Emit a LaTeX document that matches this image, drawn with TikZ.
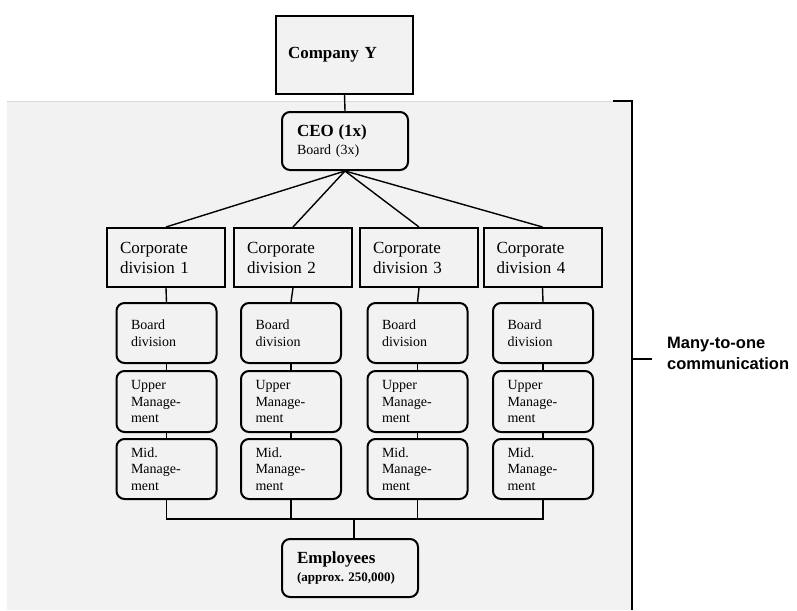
\documentclass[tikz,border=0pt]{standalone}
\usepackage{fontspec}
\setmainfont{Liberation Serif}
\newfontfamily\labelsans{Liberation Sans}
\definecolor{panelgrey}{HTML}{F2F2F2}
\definecolor{panelline}{HTML}{D9D9D9}
\begin{document}
\begin{tikzpicture}[x=1pt,y=-1pt,
  box/.style={draw=black, line width=2pt, fill=panelgrey, align=left, anchor=center,
    inner ysep=0pt},
  sqbox/.style={box},
  rbox/.style={box, rounded corners=8pt},
  corpbox/.style={sqbox, minimum width=118pt, minimum height=59pt, text width=92pt, inner xsep=13pt,
    font=\fontsize{17}{20}\selectfont},
  subbox/.style={rbox, minimum width=100pt, text width=71pt, inner xsep=14.5pt,
    font=\fontsize{14}{16.7}\selectfont},
  link/.style={draw=black, line width=1.4pt},
  bracket/.style={draw=black, line width=2pt}
]
\useasboundingbox (0,0) rectangle (797,610);

% shaded panel holding the organisation
\fill[panelgrey] (7,101) rectangle (632,610);
\draw[panelline, line width=1pt] (7,101) -- (632,101);

% top level
\node[sqbox, minimum width=137pt, minimum height=77pt, text width=113pt, inner xsep=12pt,
  font=\bfseries\fontsize{17}{20}\selectfont] (company) at (344.5,55) {Company Y};
\node[rbox, minimum width=126pt, minimum height=58pt, text width=96pt, inner xsep=15pt,
  font=\fontsize{14}{18.5}\selectfont]
  (ceo) at (345,141)
  {{\bfseries\fontsize{17}{18.5}\selectfont CEO (1x)}\\Board (3x)};

% corporate divisions
\node[corpbox] (cd1) at (166,257.5) {Corporate\\division 1};
\node[corpbox] (cd2) at (293,257.5) {Corporate\\division 2};
\node[corpbox] (cd3) at (419,257.5) {Corporate\\division 3};
\node[corpbox] (cd4) at (542.5,257.5) {Corporate\\division 4};

% management levels per division
\foreach \i/\x in {1/166.5,2/291,3/417.5,4/543}{
  \node[subbox, minimum height=60pt] (bd\i) at (\x,333) {Board\\division};
  \node[subbox, minimum height=61pt] (um\i) at (\x,401.5) {Upper\\Manage-\\ment};
  \node[subbox, minimum height=60pt] (mm\i) at (\x,469) {Mid.\\Manage-\\ment};
}

% employees
\node[rbox, minimum width=136pt, minimum height=58pt, text width=106pt, inner xsep=15pt,
  font=\bfseries\fontsize{13}{18}\selectfont]
  (emp) at (350,568)
  {{\fontsize{17}{18}\selectfont Employees}\\(approx.\ 250,000)};

% connectors
\draw[link] (company.south) -- (ceo.north);
\foreach \i in {1,2,3,4}{
  \draw[link] (ceo.south) -- (cd\i.north);
  \draw[link] (cd\i.south) -- (bd\i.north);
  \draw[link] (bd\i.south) -- (um\i.north);
  \draw[link] (um\i.south) -- (mm\i.north);
}
\coordinate (bus) at (354,519);
\draw[link] (mm1.south) -- (mm1.south |- bus) -- (mm4.south |- bus) -- (mm4.south);
\draw[link] (mm2.south) -- (mm2.south |- bus);
\draw[link] (mm3.south) -- (mm3.south |- bus);
\draw[link] (bus) -- (bus |- emp.north);

% bracket and its label
\coordinate (brtop) at (613,101);
\coordinate (brcorner) at (632,101);
\coordinate (brbottom) at (632,610);
\coordinate (brmid) at (632,359);
\coordinate (brtick) at (652,359);
\draw[bracket] (brtop) -- (brcorner) -- (brbottom);
\draw[bracket] (brmid) -- (brtick);
\node[anchor=west, align=left, inner sep=0pt, font=\labelsans\bfseries\fontsize{16.5}{21}\selectfont]
  (label) at (667,353) {Many-to-one\\communication};
\end{tikzpicture}
\end{document}
